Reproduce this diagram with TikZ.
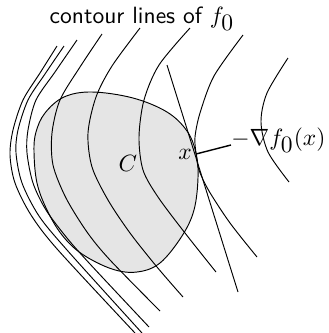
\documentclass[tikz,border=0pt]{standalone}
\begin{document}
\begin{tikzpicture}[x=0.425pt,y=-0.425pt,
  contour/.style={line width=0.4pt},
  setC/.style={line width=0.4pt,fill=gray!20},
  lbl/.style={inner sep=0pt}]
\useasboundingbox (0,0) rectangle (329,333);
% set C
\draw[setC] plot[smooth cycle,tension=0.6] coordinates{
 (92,92) (133,98) (167,112) (187,131) (196,153) (198,178) (194,210) (182,236)
 (160,263) (137,272) (112,269) (82,254) (62,235) (47,210) (37,183) (34,152)
 (36,132) (45,113) (64,97)};
% contour lines
\draw[contour] plot[smooth] coordinates{
 (57,46) (40,73) (23,100) (13,130) (10,155) (15,183) (31,215) (58,250) (135,333)};
\draw[contour] plot[smooth] coordinates{
 (64,46) (45,74) (28,100) (18,130) (16,153) (22,183) (39,216) (67,250) (142,333)};
\draw[contour] plot[smooth] coordinates{
 (77,40) (55,72) (36,100) (28,130) (27,153) (33,183) (46,210) (67,238) (90,264) (149,327)};
\draw[contour] plot[smooth] coordinates{
 (102,34) (80,67) (60,100) (52,133) (53,165) (66,198) (87,232) (110,260) (160,311)};
\draw[contour] plot[smooth] coordinates{
 (140,28) (112,66) (96,97) (88,133) (92,167) (108,200) (130,233) (157,267) (183,297)};
\draw[contour] plot[smooth] coordinates{
 (190,28) (159,65) (144,100) (139,137) (143,170) (158,197) (185,233) (216,272)};
\draw[contour] plot[smooth] coordinates{
 (243,35) (214,76) (200,113) (195,137) (196,153) (199,170) (209,191) (230,223) (257,257)};
\draw[contour] plot[smooth] coordinates{
 (288,58) (267,93) (261,122) (268,152) (289,182)};
% supporting line and gradient
\coordinate (xp) at (196,154);
\coordinate (ttop) at (167,65);
\coordinate (tbot) at (238,292);
\draw[contour] (ttop) -- (tbot);
\node[lbl,anchor=west] (grad) at (231,140) {$-\nabla f_{\textstyle 0}(x)$};
\draw[line width=0.6pt] (xp) -- (grad.west |- 0,145);
% labels
\node[lbl] (title) at (142,19) {\sffamily contour lines of $f_{\textstyle 0}$};
\node[lbl] (Clbl) at (128,163) {$C$};
\node[lbl] (xlbl) at (185,154) {$x$};
\end{tikzpicture}
\end{document}
